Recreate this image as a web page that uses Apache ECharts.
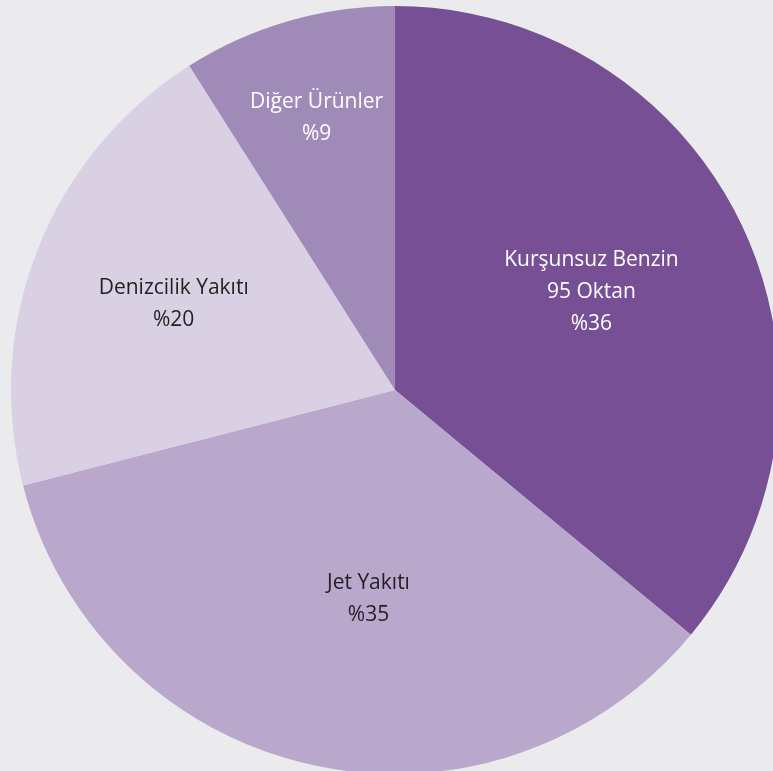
<!DOCTYPE html>
<html><head><meta charset="utf-8">
<script src="https://cdn.jsdelivr.net/npm/echarts@6/dist/echarts.min.js"></script>
<style>html,body{margin:0;padding:0;background:#ebebed;}#c{width:773px;height:771px;}</style>
</head><body><div id="c"></div>
<script>
const categories = ['Kurşunsuz Benzin\n95 Oktan', 'Jet Yakıtı', 'Denizcilik Yakıtı', 'Diğer Ürünler'];
const values = [36, 35, 20, 9];
const colors = ['#764f95', '#baa8cc', '#d9d0e4', '#a08ab8'];
const textColors = ['#ffffff', '#231f20', '#231f20', '#ffffff'];
const labelShift = [[20, -15], [16, 19], [-40, -14], [-24, -85]];

const chart = echarts.init(document.getElementById('c'));
chart.setOption({
  backgroundColor: '#ebebed',
  animation: false,
  series: [{
    type: 'pie',
    center: [395, 390],
    radius: [0, 384],
    startAngle: 90,
    clockwise: true,
    silent: true,
    itemStyle: { borderWidth: 0 },
    label: {
      position: 'inside',
      fontFamily: '"Open Sans", sans-serif',
      fontSize: 21,
      lineHeight: 32,
      align: 'center',
      formatter: p => p.name + '\n%' + p.value
    },
    labelLine: { show: false },
    labelLayout: p => ({ dx: labelShift[p.dataIndex][0], dy: labelShift[p.dataIndex][1] }),
    data: categories.map((n, i) => ({
      name: n, value: values[i],
      itemStyle: { color: colors[i] },
      label: { color: textColors[i] }
    }))
  }]
});
</script></body></html>
